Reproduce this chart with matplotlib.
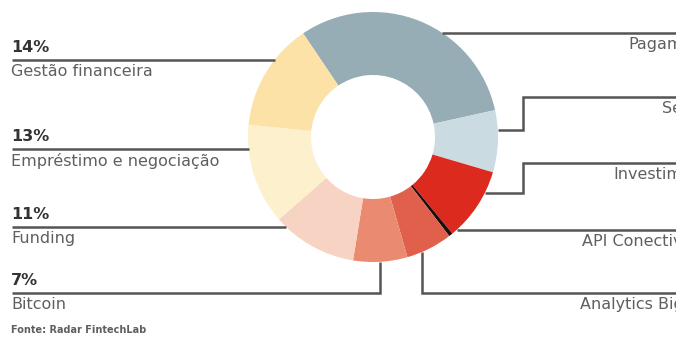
from __future__ import annotations

import numpy as np
import matplotlib.pyplot as plt
from matplotlib.axes import Axes

W, H = 676, 344

# slices, clockwise from the top-left edge of "Pagamentos"
labels = [
    "Pagamentos",
    "Seguros",
    "Investimentos",
    "API Conectividade",
    "Analytics Big Data",
    "Bitcoin",
    "Funding",
    "Empréstimo e negociação",
    "Gestão financeira",
]
shares = [31, 8, 9.5, 0.5, 6, 7, 11, 13, 14]
slice_colors = [
    "#97adb6",
    "#cbdbe2",
    "#dc2a1f",
    "#1c0d0c",
    "#e0604b",
    "#ea8a71",
    "#f7d3c4",
    "#fdf0cc",
    "#fde2a8",
]

left_pct = ["14%", "13%", "11%", "7%"]
left_names = ["Gestão financeira", "Empréstimo e negociação", "Funding", "Bitcoin"]
right_names = ["Pagamentos", "Seguros", "Investimentos", "API Conectividade", "Analytics Big Data"]
source = "Fonte: Radar FintechLab"

COLORS = {"line": "#555555", "pct": "#333333", "text": "#5f5f5f"}

CX, CY, R = 373, 137, 125
LW = 1.8


def py(y: float) -> float:
    # pixel row -> data y (axes runs bottom-up)
    return H - y


def ring_x(y: float, side: int) -> float:
    return CX + side * np.sqrt(R**2 - (y - CY) ** 2)


def ring_y(x: float) -> float:
    return CY + np.sqrt(R**2 - (x - CX) ** 2)


def seg(ax: Axes, xs: list[float], ys: list[float]) -> None:
    ax.plot(xs, [py(v) for v in ys], color=COLORS["line"], lw=LW, solid_capstyle="butt",
            solid_joinstyle="miter", zorder=1)


fig = plt.figure(figsize=(W / 100, H / 100), dpi=100)
ax = fig.add_axes([0, 0, 1, 1])

ax.pie(
    shares,
    colors=slice_colors,
    startangle=124,
    counterclock=False,
    center=(CX, py(CY)),
    radius=R,
    wedgeprops={"width": 63, "linewidth": 0},
    frame=True,
)
ax.set_xlim(0, W)
ax.set_ylim(0, H)
ax.set_aspect("equal")
ax.axis("off")

# left side: percent above line, name below
left_y = [60, 149, 227, 293]
for i, (pct, name, ly) in enumerate(zip(left_pct, left_names, left_y)):
    if i < 3:
        seg(ax, [12, ring_x(ly, -1)], [ly, ly])
    else:
        bx = 380
        seg(ax, [12, bx, bx], [ly, ly, ring_y(bx)])
    ax.text(11, py(ly - 5), pct, ha="left", va="bottom", fontsize=11.5, fontweight="bold",
            color=COLORS["pct"])
    ax.text(11, py(ly + 4), name, ha="left", va="top", fontsize=11.5, color=COLORS["text"])

# right side lines
seg(ax, [ring_x(33, 1), W], [33, 33])
seg(ax, [ring_x(130, 1), 523, 523, W], [130, 130, 97, 97])
seg(ax, [ring_x(193, 1), 523, 523, W], [193, 193, 163, 163])
seg(ax, [ring_x(230, 1), W], [230, 230])
seg(ax, [422, 422, W], [ring_y(422), 293, 293])

# names run past the right edge, as in the cropped original
right_y = [33, 97, 163, 230, 293]
for name, ry in zip(right_names, right_y):
    ax.text(727, py(ry + 4), name, ha="right", va="top", fontsize=11.5, color=COLORS["text"])

ax.text(11, py(330), source, ha="left", va="center", fontsize=7, fontweight="bold",
        color=COLORS["text"])

fig.savefig("out.png", dpi=100)
